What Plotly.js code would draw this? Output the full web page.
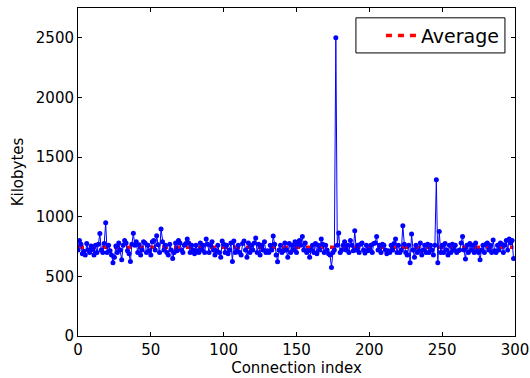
<!DOCTYPE html>
<html>
<head>
<meta charset="utf-8">
<script src="https://cdn.plot.ly/plotly-3.0.1.min.js"></script>
<style>html,body{margin:0;padding:0;background:#fff;}#chart{width:530px;height:378px;}</style>
</head>
<body>
<div id="chart"></div>
<script>
const kilobytes = [
  720, 800, 770, 690, 710, 680, 775, 720, 700, 755,
  725, 680, 760, 700, 770, 860, 720, 700, 775, 950,
  700, 760, 715, 680, 615, 660, 755, 700, 780, 720,
  640, 760, 800, 780, 715, 690, 625, 770, 862, 760,
  790, 700, 765, 680, 720, 790, 780, 700, 760, 715,
  680, 790, 800, 720, 840, 765, 700, 897, 790, 720,
  760, 700, 680, 770, 720, 650, 700, 780, 715, 800,
  780, 720, 700, 760, 775, 813, 780, 700, 760, 720,
  690, 760, 715, 700, 780, 720, 760, 700, 813, 770,
  700, 760, 790, 720, 680, 715, 760, 700, 660, 796,
  770, 700, 760, 690, 720, 780, 625, 796, 700, 715,
  760, 700, 680, 775, 796, 720, 660, 780, 700, 760,
  720, 780, 822, 700, 770, 680, 760, 720, 790, 700,
  715, 700, 760, 720, 838, 770, 680, 622, 720, 760,
  700, 715, 780, 720, 660, 775, 700, 760, 720, 790,
  700, 770, 800, 760, 835, 720, 780, 700, 715, 660,
  720, 760, 700, 775, 690, 760, 720, 813, 770, 700,
  760, 720, 690, 680, 575, 700, 720, 2500, 760, 864,
  700, 720, 760, 790, 720, 760, 700, 800, 760, 715,
  883, 720, 760, 700, 770, 780, 720, 695, 760, 715,
  720, 760, 700, 775, 780, 835, 720, 760, 700, 770,
  760, 720, 690, 715, 700, 760, 720, 775, 813, 700,
  760, 700, 720, 925, 770, 700, 680, 760, 615, 855,
  720, 660, 760, 700, 715, 780, 680, 720, 760, 700,
  770, 700, 760, 720, 680, 760, 1310, 615, 877, 700,
  760, 700, 775, 720, 680, 760, 700, 770, 720, 760,
  700, 715, 720, 780, 835, 720, 645, 760, 700, 775,
  720, 760, 700, 780, 715, 700, 640, 720, 760, 700,
  770, 780, 720, 760, 700, 805, 715, 700, 760, 720,
  780, 770, 700, 760, 800, 720, 813, 780, 800, 650
];
const connectionIndex = kilobytes.map((_, i) => i);
const averageValue = 745;
const averageX = [0, 299];
const averageY = [averageValue, averageValue];
const xTicks = [0, 50, 100, 150, 200, 250, 300];
const yTicks = [0, 500, 1000, 1500, 2000, 2500];

const traces = [
  {
    x: averageX, y: averageY, type: 'scatter', mode: 'lines', name: 'Average',
    line: {color: '#ff0000', width: 3.5, dash: '6px,6px'}, showlegend: true
  },
  {
    x: connectionIndex, y: kilobytes, type: 'scatter', mode: 'lines+markers',
    line: {color: '#0000ff', width: 1}, marker: {color: '#0000ff', size: 5},
    showlegend: false, name: 'data'
  }
];

const axisCommon = {
  showline: true, mirror: 'ticks', linecolor: '#000', linewidth: 1,
  ticks: 'inside', ticklen: 4, tickcolor: '#000', showgrid: false, zeroline: false,
  tickfont: {family: 'DejaVu Sans', size: 15, color: '#000'}
};

const layout = {
  width: 530, height: 378,
  margin: {l: 78, r: 15, t: 8, b: 42},
  paper_bgcolor: '#fff', plot_bgcolor: '#fff',
  font: {family: 'DejaVu Sans', color: '#000'},
  xaxis: Object.assign({}, axisCommon, {
    range: [0, 300], tickvals: xTicks, ticktext: xTicks.map(String),
    title: {text: 'Connection index', font: {family: 'DejaVu Sans', size: 15, color: '#000'}, standoff: 4}
  }),
  yaxis: Object.assign({}, axisCommon, {
    range: [0, 2750], tickvals: yTicks, ticktext: yTicks.map(String),
    title: {text: 'Kilobytes', font: {family: 'DejaVu Sans', size: 15, color: '#000'}, standoff: 8}
  }),
  legend: {
    x: 0.977, y: 0.916, xanchor: 'right', yanchor: 'middle',
    borderwidth: 0, bgcolor: 'rgba(0,0,0,0)',
    font: {family: 'DejaVu Sans', size: 19, color: '#000'}
  },
  shapes: [{
    type: 'rect', xref: 'paper', yref: 'paper',
    x0: 0.636, x1: 0.977, y0: 0.863, y1: 0.970,
    line: {color: '#000', width: 1}, fillcolor: '#fff', layer: 'above'
  }],
  showlegend: true
};

Plotly.newPlot('chart', traces, layout, {displayModeBar: false, staticPlot: true});
</script>
</body>
</html>
